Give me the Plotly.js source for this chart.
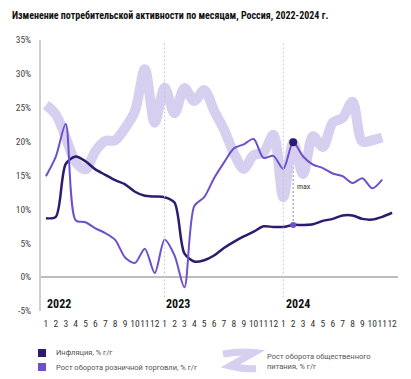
<!DOCTYPE html>
<html>
<head>
<meta charset="utf-8">
<script src="https://cdn.plot.ly/plotly-3.0.1.min.js"></script>
<style>
html,body{margin:0;padding:0;background:#fff;}
#chart{width:411px;height:379px;}
</style>
</head>
<body>
<div id="chart"></div>
<script>
// ---- data ----
var monthLabels = ["1","2","3","4","5","6","7","8","9","10","11","12",
                   "1","2","3","4","5","6","7","8","9","10","11","12",
                   "1","2","3","4","5","6","7","8","9","10","11","12"];
var yearLabels = ["2022","2023","2024"];
var yTickVals = [-5, 0, 5, 10, 15, 20, 25, 30, 35];
var yTickText = ["-5%", "0%", "5%", "10%", "15%", "20%", "25%", "30%", "35%"];
var inflation = [8.7, 8.9, 16.7, 17.8, 17.1, 15.9, 15.1, 14.3, 13.7, 12.6, 12.0, 11.9,
                 11.8, 11.0, 3.5, 2.3, 2.5, 3.2, 4.3, 5.2, 6.0, 6.7, 7.5, 7.4,
                 7.4, 7.7, 7.7, 7.8, 8.3, 8.6, 9.1, 9.1, 8.6, 8.5, 8.9, 9.5];
var retail = [14.9, 17.8, 22.6, 8.4, 8.1, 7.2, 6.5, 5.5, 2.9, 2.1, 4.2, 0.6,
              5.5, 3.2, -1.5, 10.5, 11.8, 14.6, 16.9, 19.0, 19.6, 20.4, 17.6, 17.9,
              16.0, 19.9, 17.8, 16.6, 16.1, 15.3, 14.9, 13.9, 14.6, 13.1, 14.4];
var catering = [25.4, 24.0, 20.6, 17.0, 15.9, 18.6, 20.1, 20.2, 22.0, 24.5, 30.7, 22.8,
                28.0, 24.2, 27.9, 26.0, 27.6, 24.6, 21.8, 18.3, 16.0, 18.0, 18.4, 21.0,
                11.8, 19.8, 15.2, 20.8, 19.2, 22.8, 23.5, 25.9, 20.0, 20.2, 20.6];
var maxIndex = 25;
var seriesNames = ["Инфляция, % г/г", "Рост оборота розничной торговли, % г/г", "Рост оборота общественного<br>питания, % г/г"];

// ---- styles ----
var cInfl = "#2f1b6e", cRetail = "#6e50cc", cCater = "#d6cfef";
var narrow = "Liberation Sans Narrow, Roboto Condensed, Roboto, sans-serif";
var idx = function(n){ var a=[]; for(var i=0;i<n;i++) a.push(i); return a; };
var xs = idx(monthLabels.length);

var traces = [
  {x: idx(catering.length), y: catering, mode: "lines", line: {color: cCater, width: 10, shape: "spline", smoothing: 0.9}, hoverinfo: "skip"},
  {x: idx(inflation.length), y: inflation, mode: "lines", line: {color: cInfl, width: 2.5, shape: "spline", smoothing: 0.8}, hoverinfo: "skip"},
  {x: idx(retail.length), y: retail, mode: "lines", line: {color: cRetail, width: 2, shape: "spline", smoothing: 0.8}, hoverinfo: "skip"},
  {x: [maxIndex], y: [inflation[maxIndex]], mode: "markers", marker: {color: cRetail, size: 6}, hoverinfo: "skip"},
  {x: [maxIndex], y: [retail[maxIndex]], mode: "markers", marker: {color: cInfl, size: 8}, hoverinfo: "skip"}
];

// paper helpers: plot area px 41..398 horizontally, 40..311 vertically
var PL = 41, PR = 398, PT = 40, PB = 311;
function px(x){ return (x - PL) / (PR - PL); }
function py(y){ return (PB - y) / (PB - PT); }

var shapes = [
  {type: "line", xref: "x", yref: "y", x0: 12, x1: 12, y0: -3, y1: 34.5, line: {color: "#c8c8c8", width: 1, dash: "2px,2px"}},
  {type: "line", xref: "x", yref: "y", x0: 24, x1: 24, y0: -3, y1: 34.5, line: {color: "#c8c8c8", width: 1, dash: "2px,2px"}},
  {type: "line", xref: "x", yref: "y", x0: maxIndex, x1: maxIndex, y0: inflation[maxIndex], y1: retail[maxIndex], line: {color: "#8a8a9a", width: 1, dash: "2px,2px"}, layer: "below"},
  // legend squares
  {type: "rect", xref: "paper", yref: "paper", x0: px(38), x1: px(46), y0: py(357), y1: py(349), fillcolor: cInfl, line: {width: 0}},
  {type: "rect", xref: "paper", yref: "paper", x0: px(38), x1: px(46), y0: py(371), y1: py(363), fillcolor: cRetail, line: {width: 0}},
  // legend glyph for catering
  {type: "path", xref: "paper", yref: "paper",
   path: "M" + px(223) + "," + py(354) + " Q" + px(240) + "," + py(351) + " " + px(254) + "," + py(352.5) +
         " L" + px(230) + "," + py(366) + " Q" + px(244) + "," + py(369.5) + " " + px(256) + "," + py(368.5),
   line: {color: cCater, width: 7}, fillcolor: "rgba(0,0,0,0)"}
];

var annotations = [
  {text: "<b>" + yearLabels[0] + "</b>", x: 0, xref: "x", y: 0, yref: "paper", xanchor: "left", yanchor: "bottom", xshift: -1, yshift: -2, showarrow: false, font: {family: narrow, size: 12, color: "#111"}},
  {text: "<b>" + yearLabels[1] + "</b>", x: 12, xref: "x", y: 0, yref: "paper", xanchor: "left", yanchor: "bottom", xshift: -1, yshift: -2, showarrow: false, font: {family: narrow, size: 12, color: "#111"}},
  {text: "<b>" + yearLabels[2] + "</b>", x: 24, xref: "x", y: 0, yref: "paper", xanchor: "left", yanchor: "bottom", xshift: 1, yshift: -2, showarrow: false, font: {family: narrow, size: 12, color: "#111"}},
  {text: "max", x: maxIndex, xref: "x", y: 13.4, yref: "y", xanchor: "left", yanchor: "middle", xshift: 2, showarrow: false, font: {family: narrow, size: 8, color: "#333"}},
  {text: seriesNames[0], x: px(54), xref: "paper", y: py(352.5), yref: "paper", xanchor: "left", yanchor: "middle", showarrow: false, font: {family: "Roboto, sans-serif", size: 7.5, color: "#555"}},
  {text: seriesNames[1], x: px(54), xref: "paper", y: py(367), yref: "paper", xanchor: "left", yanchor: "middle", showarrow: false, font: {family: "Roboto, sans-serif", size: 7.5, color: "#555"}},
  {text: seriesNames[2], x: px(265), xref: "paper", y: py(361.5), yref: "paper", xanchor: "left", yanchor: "middle", align: "left", showarrow: false, font: {family: "Roboto, sans-serif", size: 7.5, color: "#555"}}
];

var layout = {
  width: 411, height: 379,
  margin: {l: PL, r: 411 - PR, t: PT, b: 379 - PB, pad: 0},
  paper_bgcolor: "#fff", plot_bgcolor: "#fff",
  showlegend: false,
  title: {text: "<b>Изменение потребительской активности по месяцам, Россия, 2022-2024 г.</b>",
          x: 12/411, xanchor: "left", xref: "container", y: 1 - 15.5/379, yanchor: "middle", yref: "container",
          font: {family: narrow, size: 10, color: "#111"}},
  xaxis: {range: [-0.5, 35.6], tickmode: "array", tickvals: xs, ticktext: monthLabels, tickangle: 0,
          showgrid: false, zeroline: false, showline: false, ticks: "outside", ticklen: 4, tickcolor: "rgba(0,0,0,0)",
          tickfont: {family: narrow, size: 9.5, color: "#333"}, fixedrange: true},
  yaxis: {range: [-5, 35], tickmode: "array", tickvals: yTickVals, ticktext: yTickText,
          showgrid: false, zeroline: true, zerolinecolor: "#bdbdbd", zerolinewidth: 1.5,
          showline: true, linecolor: "#cfcfcf", linewidth: 2,
          ticks: "outside", ticklen: 6, tickcolor: "rgba(0,0,0,0)",
          tickfont: {family: narrow, size: 9.5, color: "#444"}, fixedrange: true},
  shapes: shapes,
  annotations: annotations
};

Plotly.newPlot("chart", traces, layout, {staticPlot: true, displayModeBar: false});
</script>
</body>
</html>
